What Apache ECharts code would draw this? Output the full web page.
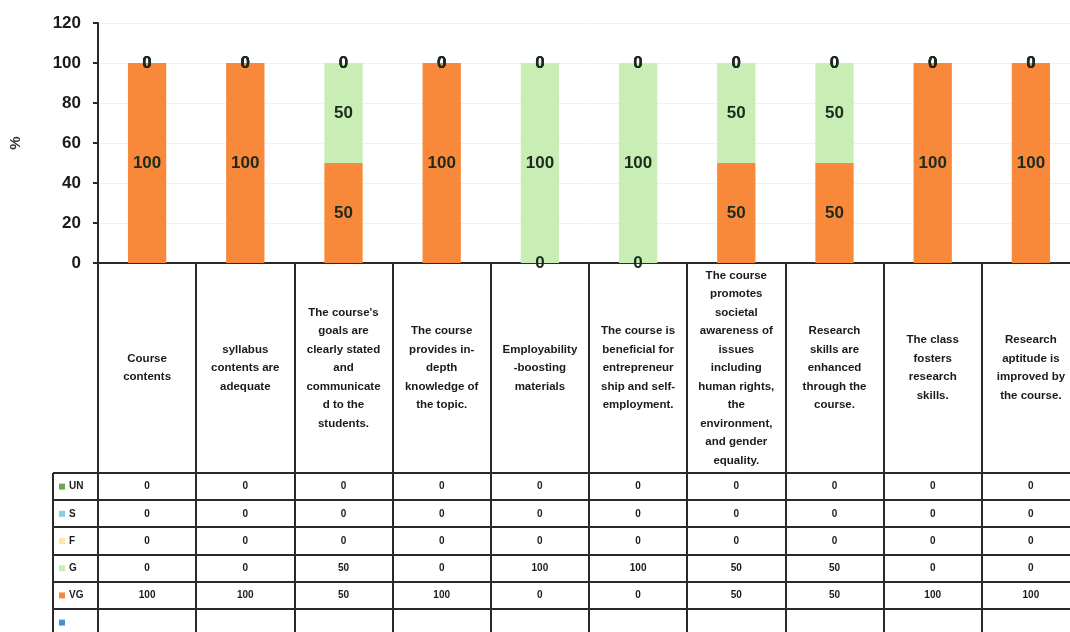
<!DOCTYPE html>
<html>
<head>
<meta charset="utf-8">
<title>Course feedback</title>
<script src="https://cdn.jsdelivr.net/npm/echarts@6/dist/echarts.min.js"></script>
<style>
  html, body { margin: 0; padding: 0; background: #fff; }
  #main { width: 1070px; height: 632px; }
</style>
</head>
<body>
<div id="main"></div>
<script>
// categories (line breaks as in the original table)
var categories = [
  'Course\ncontents',
  'syllabus\ncontents are\nadequate',
  "The course's\ngoals are\nclearly stated\nand\ncommunicate\nd to the\nstudents.",
  'The course\nprovides in-\ndepth\nknowledge of\nthe topic.',
  'Employability\n-boosting\nmaterials',
  'The course is\nbeneficial for\nentrepreneur\nship and self-\nemployment.',
  'The course\npromotes\nsocietal\nawareness of\nissues\nincluding\nhuman rights,\nthe\nenvironment,\nand gender\nequality.',
  'Research\nskills are\nenhanced\nthrough the\ncourse.',
  'The class\nfosters\nresearch\nskills.',
  'Research\naptitude is\nimproved by\nthe course.'
];

// series values (%)
var unValues = [0, 0, 0, 0, 0, 0, 0, 0, 0, 0];
var sValues  = [0, 0, 0, 0, 0, 0, 0, 0, 0, 0];
var fValues  = [0, 0, 0, 0, 0, 0, 0, 0, 0, 0];
var gValues  = [0, 0, 50, 0, 100, 100, 50, 50, 0, 0];
var vgValues = [100, 100, 50, 100, 0, 0, 50, 50, 100, 100];

var yMin = 0, yMax = 120, yStep = 20;

var colors = {
  UN: '#6aa84f',
  S: '#8fcbe6',
  F: '#fde7a6',
  G: '#c8edb5',
  VG: '#f8883a',
  blank: '#4a8fd8'
};

// rows of the data table, top to bottom
var tableRows = [
  { name: 'UN', color: colors.UN, values: unValues },
  { name: 'S', color: colors.S, values: sValues },
  { name: 'F', color: colors.F, values: fValues },
  { name: 'G', color: colors.G, values: gValues },
  { name: 'VG', color: colors.VG, values: vgValues },
  { name: '', color: colors.blank, values: null }
];

var FONT = 'Liberation Sans, Arial, sans-serif';

var labelStyle = {
  show: true,
  position: 'inside',
  formatter: '{c}',
  color: '#1c2b1c',
  fontFamily: FONT,
  fontWeight: 'bold',
  fontSize: 17
};

function barSeries(name, data, color) {
  return {
    name: name,
    type: 'bar',
    stack: 'total',
    data: data,
    barWidth: '39%',
    itemStyle: { color: color },
    label: labelStyle
  };
}

var chart = echarts.init(document.getElementById('main'));

chart.setOption({
  animation: false,
  backgroundColor: '#fff',
  grid: { left: 98, top: 23, width: 982, height: 240, outerBoundsMode: 'none', containLabel: false },
  xAxis: {
    type: 'category',
    data: categories,
    axisLine: { lineStyle: { color: '#2a2a2a', width: 2 } },
    axisTick: {
      show: true,
      interval: 0,
      length: 372,
      lineStyle: { color: '#2a2a2a', width: 2 }
    },
    axisLabel: {
      interval: 0,
      margin: 105,
      verticalAlign: 'middle',
      align: 'center',
      color: '#1a1a1a',
      fontFamily: FONT,
      fontWeight: 'bold',
      fontSize: 11.5,
      lineHeight: 18.5
    }
  },
  yAxis: {
    type: 'value',
    min: yMin,
    max: yMax,
    interval: yStep,
    name: '%',
    nameLocation: 'middle',
    nameGap: 75,
    nameRotate: 90,
    nameTextStyle: {
      color: '#333',
      fontFamily: FONT,
      fontWeight: 'bold',
      fontSize: 15
    },
    axisLine: { show: true, lineStyle: { color: '#2a2a2a', width: 2 } },
    axisTick: { show: true, length: 5, lineStyle: { color: '#2a2a2a', width: 2 } },
    axisLabel: {
      margin: 17,
      color: '#1a1a1a',
      fontFamily: FONT,
      fontWeight: 'bold',
      fontSize: 17
    },
    splitLine: { lineStyle: { color: '#f1f1f1', width: 1 } }
  },
  series: [
    barSeries('VG', vgValues, colors.VG),
    barSeries('G', gValues, colors.G),
    barSeries('F', fValues, colors.F),
    barSeries('S', sValues, colors.S),
    barSeries('UN', unValues, colors.UN)
  ]
});

// data table below the category labels, placed from the axis scales
function buildTable() {
  var c0 = chart.convertToPixel({ xAxisIndex: 0 }, 0);
  var c1 = chart.convertToPixel({ xAxisIndex: 0 }, 1);
  var band = c1 - c0;
  var axisY = chart.convertToPixel({ yAxisIndex: 0 }, 0);
  var tableTop = axisY + 210;
  var rowH = 27.2;
  var leftX = 53;
  var lastX = chart.convertToPixel({ xAxisIndex: 0 }, categories.length - 1) + band / 2;
  var lineStyle = { stroke: '#2a2a2a', lineWidth: 2 };
  var els = [];

  for (var k = 0; k <= tableRows.length; k++) {
    var y = Math.round(tableTop + k * rowH);
    els.push({
      type: 'line',
      shape: { x1: leftX, y1: y, x2: lastX, y2: y },
      style: lineStyle,
      silent: true
    });
  }
  els.push({
    type: 'line',
    shape: { x1: leftX, y1: tableTop, x2: leftX, y2: tableTop + tableRows.length * rowH },
    style: lineStyle,
    silent: true
  });

  tableRows.forEach(function (row, r) {
    var cy = tableTop + r * rowH + rowH / 2;
    els.push({
      type: 'rect',
      shape: { x: leftX + 6, y: cy - 3, width: 6, height: 6 },
      style: { fill: row.color },
      silent: true
    });
    els.push({
      type: 'text',
      x: leftX + 16,
      y: cy,
      style: {
        text: row.name,
        fill: '#1a1a1a',
        font: 'bold 10px ' + FONT,
        verticalAlign: 'middle'
      },
      silent: true
    });
    if (row.values) {
      row.values.forEach(function (v, i) {
        els.push({
          type: 'text',
          x: chart.convertToPixel({ xAxisIndex: 0 }, i),
          y: cy,
          style: {
            text: String(v),
            fill: '#1a1a1a',
            font: 'bold 10px ' + FONT,
            align: 'center',
            verticalAlign: 'middle'
          },
          silent: true
        });
      });
    }
  });

  chart.setOption({ graphic: els });
}

buildTable();
</script>
</body>
</html>
